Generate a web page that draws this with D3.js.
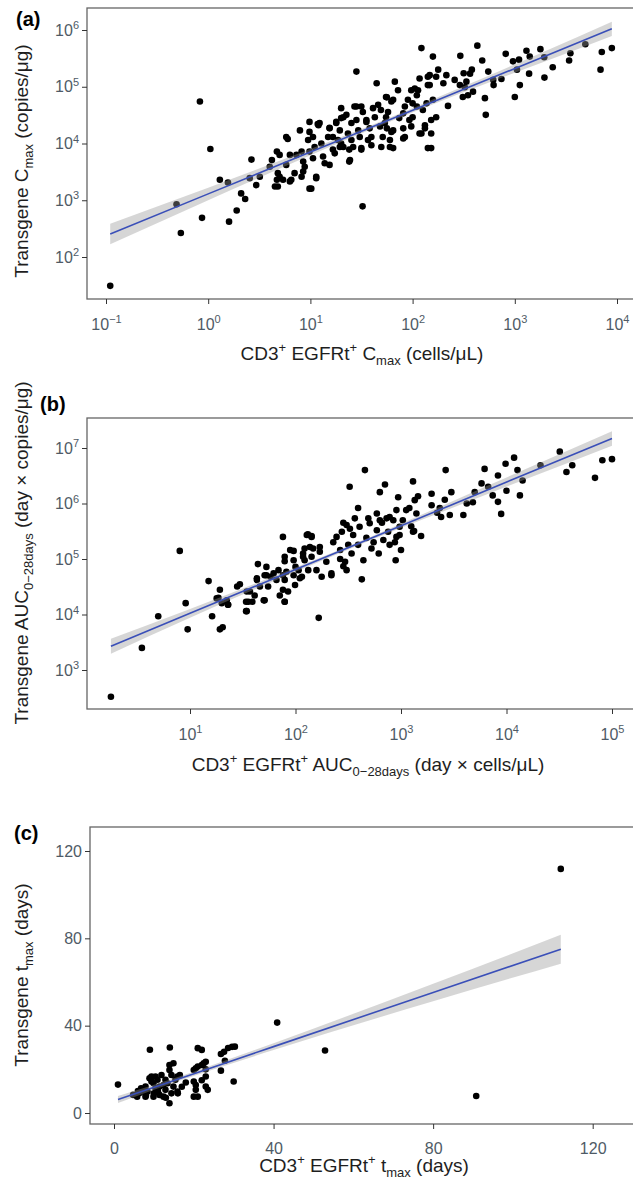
<!DOCTYPE html>
<html><head><meta charset="utf-8">
<script src="https://cdn.jsdelivr.net/npm/d3@7"></script>
<style>
body{margin:0;background:#fff}
text{font-family:"Liberation Sans",Arial,Helvetica,sans-serif;white-space:pre}
</style>
</head><body>
<svg id="chart" width="633" height="1184"></svg>
<script>
// ---------------- DATA ----------------
// Panel (a): CD3+ EGFRt+ Cmax (cells/uL) vs Transgene Cmax (copies/ug)
const cmaxPoints = [
[0.11,31],[0.49,850],[0.54,265],[0.83,55000],[0.87,490],[1.05,8000],[1.3,2300],[1.56,2050],[1.6,420],[1.9,660],
[2.1,1320],[2.3,1050],[2.65,5200],[2.55,2450],[2.95,1850],[3.2,2600],[4.0,3900],[4.2,5100],[4.7,7200],[5.0,6300],
[4.8,3000],[5.0,2600],[4.5,1750],[4.8,1750],[4.7,2300],[5.4,2300],[6.0,12000],[5.8,4200],[7.0,3000],[6.5,2300],
[6.3,6300],[7.3,6300],[7.9,17000],[8.2,7200],[8.5,4800],[8.8,3900],[8.5,3200],[8.2,2600],[9.8,16000],[9.5,11500],
[9.8,7200],[10.6,5500],[10.2,1600],[11.4,2450],[11,8700],[12.3,23000],[12.8,10000],[13.3,5900],[13.8,4500],[15.4,4200],
[14.9,13000],[15.4,19000],[16.6,7800],[17.9,23000],[18.6,11500],[19.4,17000],[20,42000],[20,28000],[20,10000],[21,8700],
[22.5,32000],[23.3,15000],[24.4,5100],[25.2,23000],[25.2,11500],[26.2,8700],[27,45000],[28.2,185000],[28.2,26000],[29.4,17000],
[30.4,13000],[31.5,7800],[32.4,780],[32.6,36000],[35.3,24000],[36.6,11500],[38,18500],[39.5,9300],[41,42000],[42.7,29000],
[44.5,115000],[46,48000],[48,20000],[49.4,8700],[51,13000],[53.5,23000],[55,66000],[57.5,36000],[60,11500],[62,55000],
[64.5,17000],[67,123000],[64.5,8300],[72,87000],[74,28000],[81,18500],[81,12300],[84,45000],[90,59000],[93,26000],
[97,87000],[100,51000],[110,71000],[113,87000],[117,140000],[117,15000],[122,480000],[126,39000],[132,21000],[137,51000],
[141,107000],[141,8300],[147,160000],[158,340000],[430,530000],[293,350000],[480,290000],[815,380000],[960,280000],[1100,300000],
[1300,430000],[1400,340000],[1780,460000],[1940,330000],[3500,390000],[3400,290000],[4900,560000],[2350,220000],[1950,145000],[1380,170000],
[1120,107000],[1000,66000],[7100,410000],[6900,200000],[8900,480000],[1050,200000],[740,137000],[620,107000],[615,132000],[550,185000],
[510,63000],[520,32000],[380,200000],[365,170000],[316,173000],[336,123000],[324,98000],[390,82000],[348,71000],[310,66000],
[290,107000],[258,132000],[222,46000],[214,160000],[200,115000],[178,200000],[170,150000],[141,150000],[147,107000],[158,59000],
[170,29000],[152,26000],[152,8300],[132,18500],[122,15000],[152,15000],[105,93000],[110,45000],[97,20000],[100,29000],
[81,34000],[84,13000],[56,65000],[64.5,59000],[49,39000],[55,29000],[56,18500],[62,16000],[60,8700],[39.5,13000],
[35.3,26000],[31.5,45000],[28.2,45000],[31.5,8300],[24,4800],[21,29000],[17.9,24000],[16.6,13000],[15.4,18500],[12.0,21000],
[10.6,13000],[17.3,6700],[11.4,2600],[9.8,1600],[24,7800],[19.4,8700],[5.8,13000],[9.8,24000],[11.8,22000],[6.3,2150]
];
// Panel (a) smooth: x, fit, lower, upper
const cmaxFitX  = [0.11, 1, 10, 40, 300, 2000, 8900];
const cmaxFitY  = [254, 1295, 7050, 19500, 87000, 347000, 1050000];
const cmaxFitLo = [168, 1000, 6210, 18000, 77600, 282000, 785000];
const cmaxFitHi = [385, 1660, 8000, 21100, 97700, 427000, 1400000];
const cmaxXTicks = [1e-1, 1e0, 1e1, 1e2, 1e3, 1e4];
const cmaxYTicks = [1e2, 1e3, 1e4, 1e5, 1e6];

// Panel (b): CD3+ EGFRt+ AUC0-28days vs Transgene AUC0-28days
const aucPoints = [
[1.78,330],[3.5,2500],[5.0,9300],[9.1,16000],[9.5,5400],[16.2,9300],[19.2,5400],[20.4,5900],[20,16000],[22.9,15000],
[34,11500],[34,17000],[39,17000],[50,18000],[79,17000],[166,8700],[8.0,140000],[15,40000],[19.2,28000],[28,32000],
[44,81000],[43,42000],[53,51000],[76,250000],[79,110000],[82,59000],[96,140000],[100,72000],[115,48000],[118,110000],
[131,280000],[142,250000],[137,165000],[158,63000],[18.6,20000],[17.9,19500],[23,15000],[22.3,18000],[29.7,35000],[34.5,26000],
[35.7,17000],[34.5,11500],[37,26000],[41,22000],[43,45000],[46,32000],[51,51000],[51,18000],[53,72000],[58,48000],
[55,32000],[62,55000],[66,42000],[69,63000],[71,22000],[79,91000],[76,51000],[79,42000],[76,28000],[79,17000],
[85,26000],[89,145000],[96,95000],[96,51000],[99,34000],[107,63000],[110,45000],[118,126000],[122,155000],[122,95000],
[128,270000],[142,260000],[132,63000],[142,110000],[147,155000],[170,165000],[170,135000],[177,48000],[196,89000],[219,51000],
[228,200000],[245,250000],[265,145000],[265,100000],[275,310000],[284,450000],[295,89000],[305,63000],[316,180000],[328,350000],
[326,2000000],[340,126000],[352,270000],[365,540000],[392,830000],[392,180000],[405,380000],[425,43000],[440,95000],[455,4000000],
[470,240000],[490,540000],[505,440000],[525,155000],[550,200000],[590,660000],[590,330000],[615,126000],[630,1600000],[660,450000],
[680,220000],[705,2200000],[730,540000],[755,310000],[780,180000],[845,500000],[875,200000],[890,95000],[905,760000],[940,1300000],
[970,270000],[1000,145000],[1040,500000],[1200,830000],[1250,390000],[1300,2500000],[1300,310000],[1350,1150000],[1400,660000],[1450,1350000],
[1950,1500000],[2650,4000000],[2600,1170000],[3000,1600000],[2900,620000],[2400,570000],[2330,830000],[2200,680000],[3900,620000],[4200,1000000],
[4800,1050000],[5000,1600000],[5800,2300000],[6200,4200000],[6700,2000000],[7400,1400000],[8300,3200000],[8300,1070000],[8900,650000],[9800,5200000],
[10000,1700000],[11800,6700000],[12700,4000000],[13400,1400000],[14200,2600000],[21000,4900000],[32000,8600000],[37000,3700000],[42000,4900000],[69000,2900000],
[81000,6000000],[100000,6300000],[305,410000],[219,55000],[284,74000],[630,500000],[780,570000],[905,250000],[970,380000],[1330,320000],
[1550,260000],[1120,760000],[1950,930000]
];
const aucFitX  = [1.78, 10, 100, 500, 3000, 100000];
const aucFitY  = [2690, 10500, 64400, 229000, 944000, 14900000];
const aucFitLo = [1970, 8730, 58700, 214000, 822000, 11000000];
const aucFitHi = [3670, 12600, 70600, 245000, 1080000, 20100000];
const aucXTicks = [1e1, 1e2, 1e3, 1e4, 1e5];
const aucYTicks = [1e3, 1e4, 1e5, 1e6, 1e7];

// Panel (c): CD3+ EGFRt+ tmax (days) vs Transgene tmax (days)
const tmaxPoints = [
[1,13],[9,29],[14,30],[21,29.7],[22,28.9],[26.8,27],[27.6,28],[28.6,29.8],[29.6,30.3],[30.3,30.4],
[30,14.4],[26.8,19.4],[27.8,23.9],[40.9,41.4],[52.9,28.6],[90.8,7.8],[112,111.8],
[5.8,7.5],[6.3,9],[6.8,11.3],[7.9,12.1],[8.4,9.8],[8.9,15.9],[9.4,16.7],[9.4,14.4],[9.9,13.6],
[10.4,16.7],[10.4,11.3],[10.9,15.2],[11.4,8.3],[11.4,12.1],[12.4,12.8],[12.9,15.2],[12.9,10.6],[13.4,13.6],[13.9,22],
[13.9,19.7],[13.9,4.5],[14.4,17.4],[14.4,9],[14.9,22.8],[14.9,12.1],[15.4,15.2],[15.9,9.8],[15.9,16.7],[16.5,17.4],
[9.9,7.5],[7.9,7.5],[12.4,7.5],[4.8,8.3],[7.3,9.8],[11.9,17.4],[20,19.7],[20.5,20.5],[21,21.3],[22,22],
[22.5,22.8],[23,23.5],[20,14.4],[20.5,12.8],[20,7.5],[21,7.5],[23,16.7],[23,12.1],[23.5,10.6],[20.5,10.6],
[17,12],[18,14],[6,10],[8,8],[11,10],[13,7],[10,9],[16,9],[22,15],[23,20]
];
const tmaxFitX  = [1, 16, 40, 80, 112];
const tmaxFitY  = [6.2, 15.5, 30.4, 55.2, 75];
const tmaxFitLo = [4.6, 14.5, 28.8, 51.2, 68.4];
const tmaxFitHi = [7.8, 16.5, 32, 59.2, 81.6];
const tmaxXTicks = [0, 40, 80, 120];
const tmaxYTicks = [0, 40, 80, 120];

// ---------------- DRAWING ----------------
const svg = d3.select("#chart");
const TICK_COL = "#4f5b66", TITLE_COL = "#1e1e1e", FRAME_COL = "#666";

function rich(sel, parts, base, small) {
  let shift = 0;
  parts.forEach(p => {
    const target = p.sup ? -base * 0.42 : p.sub ? base * 0.26 : 0;
    sel.append("tspan").attr("dy", target - shift)
      .attr("font-size", (p.sup || p.sub) ? small : base).text(p.t);
    shift = target;
  });
}
function powLabel(sel, d) {
  const e = Math.round(Math.log10(d));
  sel.text(null);
  sel.append("tspan").text("10");
  sel.append("tspan").attr("font-size", 11).attr("dy", "-0.6em")
    .text(e < 0 ? "\u2212" + (-e) : String(e));
}

function panel(o) {
  const g = svg.append("g");
  const {l, t, r, b} = o.frame;
  // points
  g.append("g").selectAll("circle").data(o.points).join("circle")
    .attr("cx", d => o.x(d[0])).attr("cy", d => o.y(d[1]))
    .attr("r", 3.3).attr("fill", "#000");
  // ribbon
  const band = o.fitX.map((v, i) => ({x: v, lo: o.fitLo[i], hi: o.fitHi[i], y: o.fitY[i]}));
  g.append("path").datum(band)
    .attr("d", d3.area().x(d => o.x(d.x)).y0(d => o.y(d.lo)).y1(d => o.y(d.hi)).curve(d3.curveMonotoneX))
    .attr("fill", "#999").attr("fill-opacity", 0.4);
  g.append("path").datum(band)
    .attr("d", d3.line().x(d => o.x(d.x)).y(d => o.y(d.y)))
    .attr("fill", "none").attr("stroke", "#3a4fb8").attr("stroke-width", 1.6);
  // frame
  g.append("rect").attr("x", l).attr("y", t).attr("width", r - l).attr("height", b - t)
    .attr("fill", "none").attr("stroke", FRAME_COL).attr("stroke-width", 1.3);
  // y axis
  const ya = g.append("g").attr("transform", `translate(${l},0)`)
    .call(d3.axisLeft(o.y).tickValues(o.yTicks).tickSize(5).tickPadding(3).tickSizeOuter(0));
  ya.select(".domain").remove();
  ya.selectAll(".tick line").attr("stroke", "#333");
  ya.selectAll(".tick text").attr("font-size", 16).attr("fill", TICK_COL)
    .attr("font-family", null)
    .each(function(d) { if (o.log) powLabel(d3.select(this), d); });
  // x axis
  const xa = g.append("g").attr("transform", `translate(0,${b})`)
    .call(d3.axisBottom(o.x).tickValues(o.xTicks).tickSize(5).tickSizeOuter(0));
  xa.select(".domain").remove();
  xa.selectAll(".tick line").attr("stroke", "#333");
  xa.selectAll(".tick text").attr("font-size", 16).attr("fill", TICK_COL)
    .attr("font-family", null).attr("dy", 0).attr("y", o.xLabOff)
    .each(function(d) { if (o.log) powLabel(d3.select(this), d); });
  // titles
  const xt = g.append("text").attr("x", o.xTitle[0]).attr("y", o.xTitle[1])
    .attr("text-anchor", "middle").attr("fill", TITLE_COL);
  rich(xt, o.xTitleParts, 19, 13);
  const yt = g.append("text")
    .attr("transform", `translate(${o.yTitle[0]},${o.yTitle[1]}) rotate(-90)`)
    .attr("text-anchor", "middle").attr("fill", TITLE_COL);
  rich(yt, o.yTitleParts, 19, 13);
  g.append("text").attr("x", o.tag[0]).attr("y", o.tag[1]).attr("font-size", 20)
    .attr("font-weight", "bold").attr("fill", "#000").text(o.tag[2]);
}

// Panel (a)
panel({
  frame: {l: 87, t: 8, r: 634, b: 299}, log: true,
  x: d3.scaleLog().domain([1e-1, 1e4]).range([106, 617]),
  y: d3.scaleLog().domain([1e2, 1e6]).range([257, 30]),
  xTicks: cmaxXTicks, yTicks: cmaxYTicks, points: cmaxPoints,
  fitX: cmaxFitX, fitY: cmaxFitY, fitLo: cmaxFitLo, fitHi: cmaxFitHi,
  xLabOff: 31,
  xTitle: [362, 360], yTitle: [28, 161], tag: [16, 26, "(a)"],
  xTitleParts: [{t: "CD3"}, {t: "+", sup: true}, {t: " EGFRt"}, {t: "+", sup: true}, {t: " C"}, {t: "max", sub: true}, {t: " (cells/\u03BCL)"}],
  yTitleParts: [{t: "Transgene C"}, {t: "max", sub: true}, {t: " (copies/\u03BCg)"}]
});
// Panel (b)
panel({
  frame: {l: 87, t: 418, r: 634, b: 709}, log: true,
  x: d3.scaleLog().domain([1e1, 1e5]).range([190, 612]),
  y: d3.scaleLog().domain([1e3, 1e7]).range([670, 448]),
  xTicks: aucXTicks, yTicks: aucYTicks, points: aucPoints,
  fitX: aucFitX, fitY: aucFitY, fitLo: aucFitLo, fitHi: aucFitHi,
  xLabOff: 31,
  xTitle: [368, 771], yTitle: [28, 553], tag: [40, 411, "(b)"],
  xTitleParts: [{t: "CD3"}, {t: "+", sup: true}, {t: " EGFRt"}, {t: "+", sup: true}, {t: " AUC"}, {t: "0\u221228days", sub: true}, {t: " (day \u00D7 cells/\u03BCL)"}],
  yTitleParts: [{t: "Transgene AUC"}, {t: "0\u221228days", sub: true}, {t: " (day \u00D7 copies/\u03BCg)"}]
});
// Panel (c)
panel({
  frame: {l: 90, t: 827, r: 634, b: 1124}, log: false,
  x: d3.scaleLinear().domain([0, 120]).range([114, 592.7]),
  y: d3.scaleLinear().domain([0, 120]).range([1113, 851]),
  xTicks: tmaxXTicks, yTicks: tmaxYTicks, points: tmaxPoints,
  fitX: tmaxFitX, fitY: tmaxFitY, fitLo: tmaxFitLo, fitHi: tmaxFitHi,
  xLabOff: 30,
  xTitle: [364, 1172], yTitle: [28, 975], tag: [14, 840, "(c)"],
  xTitleParts: [{t: "CD3"}, {t: "+", sup: true}, {t: " EGFRt"}, {t: "+", sup: true}, {t: " t"}, {t: "max", sub: true}, {t: " (days)"}],
  yTitleParts: [{t: "Transgene t"}, {t: "max", sub: true}, {t: " (days)"}]
});
</script>
</body></html>
